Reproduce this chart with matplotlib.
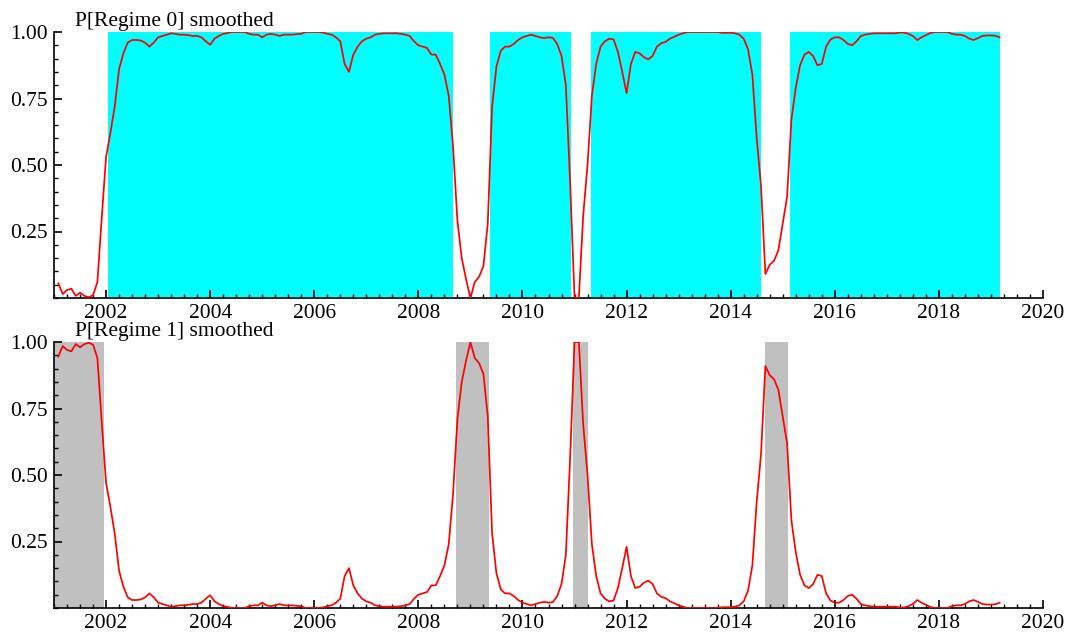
import numpy as np
import matplotlib
matplotlib.use('Agg')
import matplotlib.pyplot as plt
from matplotlib.ticker import MultipleLocator, FixedLocator, FormatStrFormatter

plt.rcParams['font.family'] = ['Liberation Serif', 'DejaVu Serif']

# monthly smoothed probability of regime 0, 2001M2 .. 2019M3
start_year, start_month = 2001, 2
p0_2001 = [.055, .015, .03, .035, .008, .02, .008, .003, .01, .06, .30]
p0_2002 = [.53, .62, .72, .86, .92, .96, .97, .97, .968, .96, .945, .96]
p0_2003 = [.98, .985, .99, .995, .993, .99, .99, .988, .985, .985, .98, .965]
p0_2004 = [.952, .975, .985, .993, .996, 1.0, 1.0, 1.0, 1.0, .993, .99, .99]
p0_2005 = [.98, .99, .993, .99, .985, .99, .99, .99, .992, .993, 1.0, 1.0]
p0_2006 = [1.0, 1.0, .998, .993, .99, .98, .965, .88, .85, .915, .945, .965]
p0_2007 = [.975, .98, .99, .993, .995, .995, .995, .995, .993, .99, .985, .965]
p0_2008 = [.95, .945, .94, .915, .915, .88, .84, .76, .57, .29, .15, .07]
p0_2009 = [0.0, .06, .08, .12, .28, .72, .87, .93, .945, .945, .955, .97]
p0_2010 = [.98, .985, .99, .985, .98, .977, .98, .978, .955, .91, .80, .43]
p0_2011 = [0.0, 0.0, .31, .50, .76, .88, .945, .965, .975, .972, .925, .85]
p0_2012 = [.77, .88, .925, .92, .905, .897, .91, .945, .958, .963, .975, .982]
p0_2013 = [.99, .995, 1.0, 1.0, 1.0, 1.0, 1.0, 1.0, 1.0, 1.0, .997, .997]
p0_2014 = [.997, .995, .99, .975, .935, .84, .60, .42, .09, .125, .14, .18]
p0_2015 = [.28, .38, .67, .79, .875, .915, .925, .91, .875, .88, .945, .972]
p0_2016 = [.98, .98, .97, .955, .95, .965, .985, .99, .993, .995, .995, .995]
p0_2017 = [.995, .995, .995, .998, .998, .993, .985, .97, .98, .988, .996, 1.0]
p0_2018 = [1.0, 1.0, 1.0, .993, .99, .99, .985, .975, .97, .977, .985, .987]
p0_2019 = [.987, .986, .98]

# regime classification periods (shaded)
regime0_start = [2002.04, 2009.38, 2011.32, 2015.14]
regime0_end = [2008.67, 2010.93, 2014.58, 2019.18]
regime1_start = [2001.0, 2008.72, 2010.97, 2014.66]
regime1_end = [2001.96, 2009.35, 2011.25, 2015.11]

p0 = np.array(p0_2001 + p0_2002 + p0_2003 + p0_2004 + p0_2005 + p0_2006 +
              p0_2007 + p0_2008 + p0_2009 + p0_2010 + p0_2011 + p0_2012 +
              p0_2013 + p0_2014 + p0_2015 + p0_2016 + p0_2017 + p0_2018 +
              p0_2019)
p1 = 1.0 - p0
t = start_year + (start_month - 1 + np.arange(len(p0))) / 12.0

fig = plt.figure(figsize=(10.76, 6.32), dpi=100)
ax0 = fig.add_axes([54 / 1076, 334 / 632, 989 / 1076, 266 / 632])
ax1 = fig.add_axes([54 / 1076, 24 / 632, 989 / 1076, 266 / 632])

panels = [
    (ax0, p0, regime0_start, regime0_end, '#00ffff', 'P[Regime 0] smoothed'),
    (ax1, p1, regime1_start, regime1_end, '#c0c0c0', 'P[Regime 1] smoothed'),
]

for ax, p, s, e, col, title in panels:
    for a, b in zip(s, e):
        ax.axvspan(a, b, color=col, lw=0, zorder=1)
    ax.plot(t, p, color='#ff0000', lw=1.25, zorder=3)
    ax.set_xlim(2001, 2020)
    ax.set_ylim(0, 1)
    for side in ['top', 'right']:
        ax.spines[side].set_visible(False)
    for side in ['left', 'bottom']:
        ax.spines[side].set_linewidth(1.2)
    ax.xaxis.set_major_locator(MultipleLocator(2))
    ax.xaxis.set_minor_locator(MultipleLocator(0.25))
    ax.yaxis.set_major_locator(FixedLocator([0.25, 0.5, 0.75, 1.0]))
    ax.yaxis.set_minor_locator(MultipleLocator(0.05))
    ax.yaxis.set_major_formatter(FormatStrFormatter('%.2f'))
    ax.tick_params(which='major', direction='in', length=6, width=1.2,
                   labelsize=15.5, pad=4)
    ax.tick_params(which='minor', direction='in', length=3, width=1.0)
    ax.tick_params(axis='y', which='major', pad=4.5)
    ax.text(0.021, 1.023, title, transform=ax.transAxes, fontsize=15.5,
            va='baseline', ha='left')

fig.savefig('out.png', dpi=100)
